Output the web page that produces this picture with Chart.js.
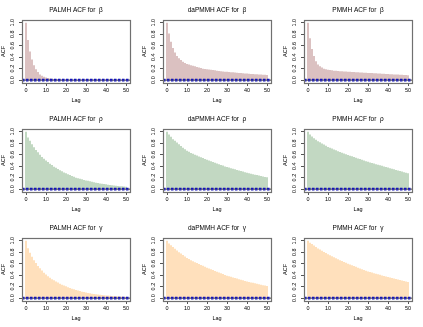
<!DOCTYPE html>
<html lang="en">

<head>
    <meta charset="UTF-8">
    <title>ACF comparison</title>
    <style>
        body {
            margin: 0;
            background: #fff;
        }

        #grid {
            position: relative;
            width: 423px;
            height: 327px;
        }

        #grid canvas {
            position: absolute;
        }
    </style>
</head>

<body>
    <div id="grid"></div>

    <script src="https://cdn.jsdelivr.net/npm/chart.js"></script>
    <script>
        // lags 0..50
        const lags = Array.from({ length: 51 }, (_, i) => i);
        const methods = ['PALMH', 'daPMMH', 'PMMH'];
        const params = ['β', 'ρ', 'γ'];
        const xTicks = [0, 10, 20, 30, 40, 50];
        const yTicks = [0, 0.2, 0.4, 0.6, 0.8, 1.0];
        const ciBound = 0.012;

        // ACF values, one array per panel
        const palmhBeta = [1.00, 0.70, 0.50, 0.36, 0.26, 0.19, 0.14, 0.10, 0.075, 0.06, 0.045, 0.035, 0.03, 0.025, 0.02, 0.02, 0.015, 0.015, 0.012, 0.012,
            0.01, 0.01, 0.008, 0.008, 0.006, 0.006, 0.005, 0.005, 0.004, 0.004, 0.003, 0.003, 0.003, 0.002, 0.002, 0.002, 0.002, 0.001, 0.001, 0.001,
            0.001, 0.001, 0.001, 0.0, 0.0, 0.0, 0.0, 0.0, 0.0, 0.0, 0.0];
        const dapmmhBeta = [1.00, 0.81, 0.67, 0.56, 0.48, 0.42, 0.38, 0.35, 0.32, 0.30, 0.28, 0.27, 0.26, 0.25, 0.24, 0.23, 0.22, 0.21, 0.20, 0.195,
            0.19, 0.185, 0.18, 0.175, 0.17, 0.165, 0.16, 0.155, 0.15, 0.147, 0.144, 0.141, 0.138, 0.135, 0.132, 0.129, 0.126, 0.123, 0.12, 0.117,
            0.114, 0.111, 0.108, 0.105, 0.103, 0.101, 0.099, 0.097, 0.095, 0.093, 0.091];
        const pmmhBeta = [1.00, 0.73, 0.54, 0.42, 0.33, 0.27, 0.24, 0.22, 0.20, 0.19, 0.18, 0.175, 0.17, 0.165, 0.162, 0.159, 0.156, 0.153, 0.15, 0.148,
            0.146, 0.144, 0.142, 0.14, 0.138, 0.136, 0.134, 0.132, 0.13, 0.128, 0.126, 0.124, 0.122, 0.12, 0.118, 0.116, 0.114, 0.112, 0.11, 0.108,
            0.106, 0.104, 0.102, 0.1, 0.098, 0.096, 0.094, 0.092, 0.09, 0.088, 0.086];
        const palmhRho = [1.00, 0.90, 0.84, 0.78, 0.73, 0.68, 0.64, 0.60, 0.56, 0.53, 0.50, 0.47, 0.44, 0.42, 0.39, 0.37, 0.35, 0.33, 0.31, 0.29,
            0.275, 0.26, 0.245, 0.23, 0.215, 0.2, 0.19, 0.18, 0.17, 0.16, 0.152, 0.144, 0.136, 0.128, 0.12, 0.113, 0.106, 0.1, 0.094, 0.088,
            0.083, 0.078, 0.073, 0.068, 0.064, 0.06, 0.056, 0.052, 0.048, 0.045, 0.042];
        const dapmmhRho = [1.00, 0.95, 0.91, 0.87, 0.84, 0.81, 0.78, 0.75, 0.72, 0.695, 0.67, 0.65, 0.63, 0.615, 0.6, 0.585, 0.57, 0.555, 0.54, 0.525,
            0.51, 0.5, 0.485, 0.47, 0.46, 0.445, 0.435, 0.42, 0.41, 0.395, 0.385, 0.375, 0.365, 0.355, 0.345, 0.335, 0.325, 0.315, 0.305, 0.295,
            0.285, 0.275, 0.268, 0.26, 0.252, 0.244, 0.236, 0.228, 0.22, 0.212, 0.205];
        const pmmhRho = [1.00, 0.95, 0.915, 0.885, 0.86, 0.835, 0.815, 0.795, 0.775, 0.755, 0.735, 0.72, 0.705, 0.69, 0.675, 0.66, 0.647, 0.634, 0.621, 0.608,
            0.595, 0.583, 0.571, 0.559, 0.547, 0.535, 0.523, 0.511, 0.499, 0.487, 0.475, 0.465, 0.455, 0.445, 0.435, 0.425, 0.415, 0.405, 0.395, 0.385,
            0.375, 0.365, 0.355, 0.345, 0.335, 0.325, 0.315, 0.305, 0.295, 0.285, 0.275];
        const palmhGamma = [1.00, 0.87, 0.79, 0.72, 0.66, 0.61, 0.56, 0.52, 0.48, 0.44, 0.41, 0.38, 0.355, 0.33, 0.31, 0.29, 0.27, 0.25, 0.235, 0.22,
            0.205, 0.19, 0.177, 0.165, 0.153, 0.142, 0.132, 0.122, 0.113, 0.105, 0.097, 0.09, 0.084, 0.078, 0.072, 0.067, 0.062, 0.058, 0.054, 0.05,
            0.047, 0.044, 0.041, 0.038, 0.036, 0.034, 0.032, 0.03, 0.028, 0.026, 0.025];
        const dapmmhGamma = [1.00, 0.95, 0.92, 0.89, 0.86, 0.83, 0.8, 0.775, 0.75, 0.725, 0.70, 0.68, 0.66, 0.643, 0.626, 0.61, 0.594, 0.578, 0.562, 0.546,
            0.53, 0.516, 0.502, 0.488, 0.474, 0.46, 0.446, 0.432, 0.418, 0.404, 0.39, 0.38, 0.37, 0.36, 0.35, 0.34, 0.33, 0.32, 0.31, 0.3,
            0.29, 0.282, 0.274, 0.266, 0.258, 0.25, 0.242, 0.234, 0.226, 0.218, 0.21];
        const pmmhGamma = [1.00, 0.965, 0.94, 0.915, 0.89, 0.865, 0.845, 0.825, 0.805, 0.785, 0.765, 0.745, 0.728, 0.711, 0.694, 0.677, 0.66, 0.645, 0.63, 0.615,
            0.60, 0.586, 0.572, 0.558, 0.544, 0.53, 0.517, 0.504, 0.491, 0.478, 0.465, 0.455, 0.445, 0.435, 0.425, 0.415, 0.405, 0.396, 0.387, 0.378,
            0.369, 0.36, 0.351, 0.342, 0.333, 0.324, 0.315, 0.306, 0.297, 0.288, 0.28];

        const rows = [
            [palmhBeta, dapmmhBeta, pmmhBeta],
            [palmhRho, dapmmhRho, pmmhRho],
            [palmhGamma, dapmmhGamma, pmmhGamma]
        ];
        const rowColors = ['#b88484', '#86b286', '#ffc27a'];

        const PANEL_W = 141;
        const PANEL_H = 109;
        const FONT = '"Liberation Sans", Arial, sans-serif';

        Chart.defaults.color = '#000';
        Chart.defaults.font.family = FONT;

        // box round the plot region, zero line and dashed confidence bounds
        const framePlugin = {
            id: 'frame',
            afterDatasetsDraw(chart) {
                const { ctx, chartArea: a } = chart;
                const y = chart.scales.y;
                ctx.save();
                const y0 = y.getPixelForValue(0);
                ctx.strokeStyle = '#000';
                ctx.lineWidth = 0.8;
                ctx.beginPath();
                ctx.moveTo(a.left, y0);
                ctx.lineTo(a.right, y0);
                ctx.stroke();

                ctx.strokeStyle = '#1414b8';
                ctx.lineWidth = 1.2;
                ctx.setLineDash([2.5, 1.5]);
                [ciBound, -ciBound].forEach(v => {
                    const py = y.getPixelForValue(v);
                    ctx.beginPath();
                    ctx.moveTo(a.left, py);
                    ctx.lineTo(a.right, py);
                    ctx.stroke();
                });
                ctx.setLineDash([]);

                ctx.strokeStyle = '#707070';
                ctx.lineWidth = 1.2;
                ctx.strokeRect(Math.round(a.left) + 0.5, Math.round(a.top) + 0.5,
                    Math.round(a.right - a.left), Math.round(a.bottom - a.top));
                ctx.restore();
            }
        };

        function makePanel(row, col) {
            const canvas = document.createElement('canvas');
            canvas.width = PANEL_W;
            canvas.height = PANEL_H;
            canvas.style.left = (col * PANEL_W) + 'px';
            canvas.style.top = (row * PANEL_H) + 'px';
            document.getElementById('grid').appendChild(canvas);

            const values = rows[row][col];
            const title = methods[col] + ' ACF for  ' + params[row];

            new Chart(canvas.getContext('2d'), {
                type: 'bar',
                data: {
                    datasets: [{
                        data: values.map((v, i) => ({ x: lags[i], y: v })),
                        backgroundColor: rowColors[row],
                        borderWidth: 0,
                        barThickness: 1,
                        inflateAmount: 0
                    }]
                },
                options: {
                    responsive: false,
                    animation: false,
                    events: [],
                    layout: {
                        padding: { top: 0, right: 11, bottom: 0, left: 0 }
                    },
                    plugins: {
                        legend: { display: false },
                        tooltip: { enabled: false },
                        title: {
                            display: true,
                            text: title,
                            fullSize: false,
                            font: { size: 6.5, weight: 'normal' },
                            padding: { top: 6, bottom: 6 }
                        }
                    },
                    scales: {
                        x: {
                            type: 'linear',
                            min: -2,
                            max: 52,
                            offset: false,
                            afterFit: s => { s.height = 26; },
                            afterBuildTicks: s => { s.ticks = xTicks.map(v => ({ value: v })); },
                            grid: { display: true, offset: false, drawOnChartArea: false, drawTicks: true, tickLength: 3, color: '#555' },
                            border: { display: false },
                            ticks: { font: { size: 5.5 }, padding: 1, maxRotation: 0, autoSkip: false },
                            title: { display: true, text: 'Lag', font: { size: 5.5 }, padding: { top: 0, bottom: 5.5 } }
                        },
                        y: {
                            min: -0.05,
                            max: 1.05,
                            afterFit: s => { s.width = 22; },
                            afterBuildTicks: s => { s.ticks = yTicks.map(v => ({ value: v })); },
                            grid: { display: true, drawOnChartArea: false, drawTicks: true, tickLength: 3, color: '#555' },
                            border: { display: false },
                            ticks: {
                                font: { size: 5.5 },
                                minRotation: 90,
                                maxRotation: 90,
                                crossAlign: 'center',
                                padding: 3,
                                callback: v => v.toFixed(1)
                            },
                            title: { display: true, text: 'ACF', font: { size: 5.5 }, padding: { top: 0.3, bottom: 0 } }
                        }
                    }
                },
                plugins: [framePlugin]
            });
        }

        for (let r = 0; r < 3; r++) {
            for (let c = 0; c < 3; c++) {
                makePanel(r, c);
            }
        }
    </script>
</body>

</html>
